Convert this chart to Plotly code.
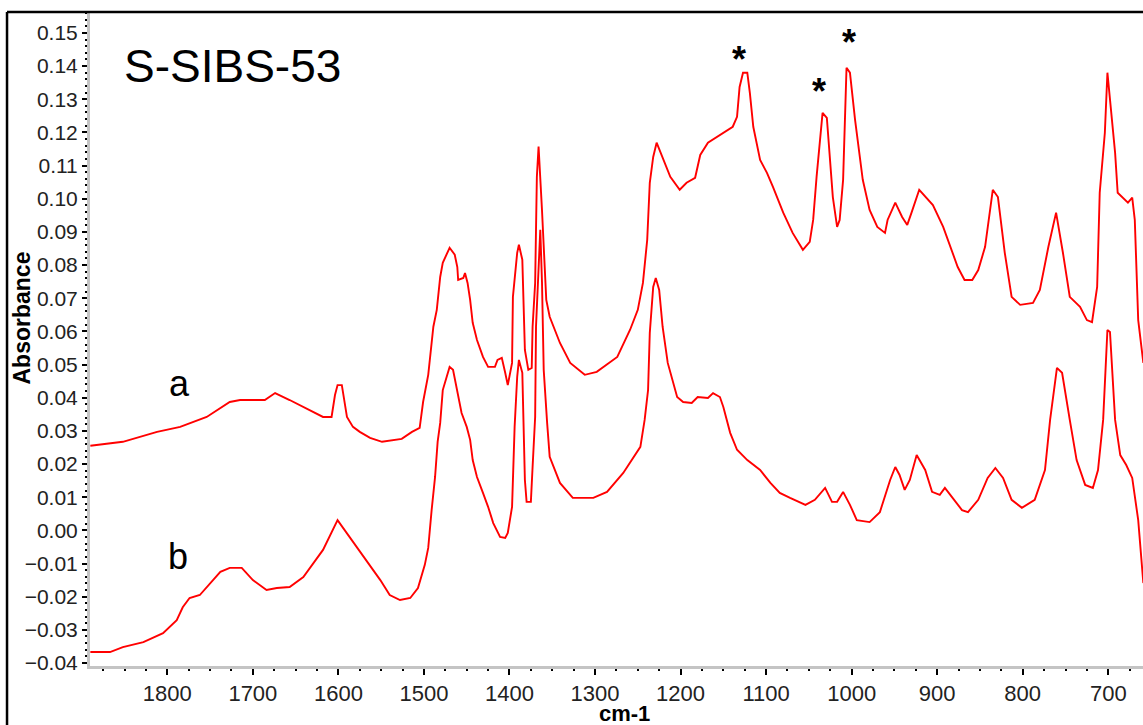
import plotly.graph_objects as go

# FTIR spectra of S-SIBS-53: wavenumber (cm-1) and absorbance
wn_a = [1890, 1852, 1812, 1785, 1754, 1727, 1715, 1686, 1674, 1657, 1618, 1608, 1604, 1601, 1596,
        1590, 1583, 1575, 1563, 1549, 1526, 1514, 1505, 1501, 1495, 1489, 1485, 1481, 1478, 1473,
        1470, 1464, 1461, 1460, 1454, 1452, 1449, 1446, 1443, 1438, 1431, 1425, 1417, 1414, 1409,
        1405, 1402, 1397, 1396, 1391, 1389, 1385, 1382, 1378, 1374, 1373, 1370, 1368, 1366, 1362,
        1360, 1357, 1353, 1341, 1329, 1312, 1298, 1274, 1259, 1250, 1244, 1239, 1236, 1232, 1228,
        1222, 1212, 1201, 1193, 1183, 1177, 1168, 1154, 1139, 1134, 1131, 1127, 1122, 1119, 1115,
        1107, 1099, 1092, 1080, 1069, 1057, 1049, 1045, 1041, 1037, 1034, 1029, 1025, 1022, 1017,
        1014, 1010, 1006, 1002, 996, 987, 979, 970, 961, 958, 949, 941, 935, 930, 921,
        905, 893, 876, 868, 859, 852, 844, 835, 829, 821, 813, 803, 788, 780, 770,
        761, 753, 745, 733, 725, 719, 713, 710, 704, 701, 698, 692, 689, 680, 677,
        672, 669, 665, 659]
abs_a = [0.0255, 0.0267, 0.0297, 0.0312, 0.0342, 0.0387, 0.0393, 0.0393, 0.0414, 0.0393, 0.0342, 0.0342, 0.0408, 0.0438, 0.0438,
         0.0342, 0.0312, 0.0297, 0.0279, 0.0267, 0.0276, 0.0297, 0.0309, 0.0387, 0.0469, 0.0614, 0.0665, 0.0764, 0.0807, 0.0837,
         0.0852, 0.0831, 0.0794, 0.0755, 0.0761, 0.0776, 0.0746, 0.0695, 0.0626, 0.0574, 0.0523, 0.0493, 0.0493, 0.0514, 0.0520,
         0.0475, 0.0438, 0.0505, 0.0704, 0.0837, 0.0861, 0.0816, 0.0544, 0.0484, 0.0490, 0.0614, 0.0746, 0.1066, 0.1157, 0.0966,
         0.0846, 0.0695, 0.0644, 0.0565, 0.0505, 0.0469, 0.0478, 0.0523, 0.0605, 0.0665, 0.0746, 0.0876, 0.1048, 0.1126, 0.1169,
         0.1132, 0.1066, 0.1027, 0.1048, 0.1063, 0.1132, 0.1169, 0.1193, 0.1217, 0.1247, 0.1337, 0.1380, 0.1380, 0.1319, 0.1217,
         0.1117, 0.1078, 0.1036, 0.0958, 0.0897, 0.0846, 0.0870, 0.0936, 0.1066, 0.1177, 0.1259, 0.1244, 0.1096, 0.1005, 0.0915,
         0.0936, 0.1057, 0.1395, 0.1380, 0.1238, 0.1057, 0.0966, 0.0915, 0.0897, 0.0936, 0.0988, 0.0945, 0.0921, 0.0958, 0.1027,
         0.0981, 0.0915, 0.0794, 0.0755, 0.0755, 0.0785, 0.0855, 0.1027, 0.1005, 0.0837, 0.0704, 0.0680, 0.0686, 0.0725, 0.0855,
         0.0958, 0.0837, 0.0704, 0.0674, 0.0634, 0.0628, 0.0734, 0.1018, 0.1199, 0.1380, 0.1298, 0.1138, 0.1018, 0.0997, 0.0988,
         0.1003, 0.0936, 0.0634, 0.0505]

wn_b = [1890, 1867, 1852, 1828, 1805, 1789, 1782, 1774, 1762, 1750, 1738, 1727, 1713, 1700, 1684,
        1672, 1657, 1641, 1618, 1601, 1587, 1571, 1551, 1540, 1528, 1516, 1507, 1499, 1495, 1491,
        1487, 1484, 1481, 1478, 1473, 1470, 1466, 1461, 1456, 1450, 1446, 1443, 1438, 1431, 1425,
        1419, 1411, 1405, 1402, 1397, 1396, 1394, 1391, 1389, 1385, 1384, 1382, 1380, 1375, 1373,
        1370, 1369, 1367, 1364, 1362, 1360, 1356, 1353, 1341, 1326, 1302, 1286, 1267, 1259, 1247,
        1242, 1238, 1236, 1232, 1229, 1225, 1221, 1215, 1204, 1197, 1187, 1180, 1168, 1162, 1154,
        1150, 1142, 1134, 1122, 1107, 1095, 1084, 1072, 1054, 1043, 1031, 1023, 1017, 1010, 1002,
        994, 979, 967, 955, 949, 944, 938, 932, 924, 914, 906, 897, 891, 883, 871,
        864, 852, 841, 832, 823, 813, 801, 786, 774, 768, 760, 754, 745, 737, 727,
        718, 712, 706, 701, 698, 692, 686, 679, 672, 665, 659]
abs_b = [-0.0367, -0.0367, -0.0352, -0.0337, -0.0310, -0.0271, -0.0232, -0.0204, -0.0195, -0.0159, -0.0125, -0.0113, -0.0113, -0.0150, -0.0180,
         -0.0174, -0.0171, -0.0141, -0.0059, 0.0031, -0.0020, -0.0080, -0.0150, -0.0195, -0.0210, -0.0204, -0.0174, -0.0104, -0.0053, 0.0062,
         0.0161, 0.0267, 0.0324, 0.0423, 0.0463, 0.0493, 0.0484, 0.0415, 0.0354, 0.0312, 0.0273, 0.0212, 0.0161, 0.0113, 0.0071,
         0.0022, -0.0020, -0.0023, -0.0008, 0.0071, 0.0143, 0.0312, 0.0463, 0.0514, 0.0475, 0.0324, 0.0152, 0.0086, 0.0086, 0.0191,
         0.0342, 0.0614, 0.0749, 0.0906, 0.0749, 0.0484, 0.0324, 0.0222, 0.0143, 0.0098, 0.0098, 0.0116, 0.0173, 0.0203, 0.0252,
         0.0333, 0.0423, 0.0595, 0.0734, 0.0761, 0.0725, 0.0614, 0.0505, 0.0402, 0.0387, 0.0384, 0.0402, 0.0399, 0.0414, 0.0402,
         0.0372, 0.0294, 0.0243, 0.0212, 0.0182, 0.0143, 0.0113, 0.0098, 0.0077, 0.0092, 0.0128, 0.0086, 0.0086, 0.0116, 0.0077,
         0.0031, 0.0025, 0.0055, 0.0152, 0.0191, 0.0167, 0.0122, 0.0152, 0.0227, 0.0182, 0.0116, 0.0107, 0.0128, 0.0101, 0.0061,
         0.0055, 0.0092, 0.0158, 0.0188, 0.0158, 0.0092, 0.0068, 0.0092, 0.0182, 0.0333, 0.0490, 0.0475, 0.0333, 0.0212, 0.0137,
         0.0128, 0.0182, 0.0333, 0.0604, 0.0598, 0.0333, 0.0227, 0.0197, 0.0158, 0.0031, -0.0159]

# asterisk-marked bands on spectrum a
star_wn = [1132, 1038, 1003]
star_abs = [0.1420, 0.1323, 0.1470]

x_range = [1890.4, 659.4]
y_range = [-0.0409, 0.1560]

RED = "#ff0000"
AXIS_GRAY = "#c4c4c4"
FONT = "Liberation Sans, Arial, sans-serif"

fig = go.Figure()
fig.add_trace(go.Scatter(x=wn_a, y=abs_a, mode="lines", line=dict(color=RED, width=1.9),
                         name="a", showlegend=False, hoverinfo="x+y"))
fig.add_trace(go.Scatter(x=wn_b, y=abs_b, mode="lines", line=dict(color=RED, width=1.9),
                         name="b", showlegend=False, hoverinfo="x+y"))

# band markers
for w, v in zip(star_wn, star_abs):
    fig.add_annotation(x=w, y=v, xref="x", yref="y", text="<b>*</b>", showarrow=False,
                       font=dict(family=FONT, size=36, color="black"),
                       xanchor="center", yanchor="middle")

# sample name and trace labels
fig.add_annotation(x=0.0304, y=0.919, xref="paper", yref="paper", text="S-SIBS-53",
                   showarrow=False, xanchor="left", yanchor="middle",
                   font=dict(family=FONT, size=46, color="black"))
fig.add_annotation(x=0.085, y=0.432, xref="paper", yref="paper", text="a",
                   showarrow=False, xanchor="center", yanchor="middle",
                   font=dict(family=FONT, size=36, color="black"))
fig.add_annotation(x=0.084, y=0.168, xref="paper", yref="paper", text="b",
                   showarrow=False, xanchor="center", yanchor="middle",
                   font=dict(family=FONT, size=36, color="black"))

# axis titles
fig.add_annotation(x=-0.065, y=0.533, xref="paper", yref="paper", text="<b>Absorbance</b>",
                   showarrow=False, textangle=-90, xanchor="center", yanchor="middle",
                   font=dict(family=FONT, size=23, color="black"))
fig.add_annotation(x=0.508, y=-0.073, xref="paper", yref="paper", text="<b>cm-1</b>",
                   showarrow=False, xanchor="center", yanchor="middle",
                   font=dict(family=FONT, size=22, color="black"))

# outer frame (top and left edges)
fig.add_shape(type="line", xref="paper", yref="paper", x0=-0.0788, x1=1.0, y0=1.0015, y1=1.0015,
              line=dict(color="black", width=2.5))
fig.add_shape(type="line", xref="paper", yref="paper", x0=-0.0788, x1=-0.0788, y0=-0.1, y1=1.0015,
              line=dict(color="black", width=2.5))

fig.update_xaxes(range=x_range, showgrid=False, zeroline=False,
                 showline=True, linecolor=AXIS_GRAY, linewidth=3,
                 ticks="outside", ticklen=6, tickwidth=1.5, tickcolor="black",
                 dtick=100, tick0=0,
                 minor=dict(dtick=25, tick0=0, ticks="outside", ticklen=2, tickwidth=1.5, tickcolor="black"),
                 tickfont=dict(family=FONT, size=22, color="#222222"))
fig.update_yaxes(range=y_range, showgrid=False, zeroline=False,
                 showline=True, linecolor=AXIS_GRAY, linewidth=3,
                 ticks="outside", ticklen=5, tickwidth=1.5, tickcolor="black",
                 dtick=0.01, tick0=0, tickformat=".2f",
                 minor=dict(dtick=0.002, tick0=0, ticks="outside", ticklen=2, tickwidth=1.5, tickcolor="black"),
                 tickfont=dict(family=FONT, size=21, color="#222222"))

fig.update_layout(width=1143, height=725,
                  margin=dict(l=90, r=0, t=13, b=59, pad=0),
                  plot_bgcolor="white", paper_bgcolor="white",
                  showlegend=False)

fig.write_html("out.html")
